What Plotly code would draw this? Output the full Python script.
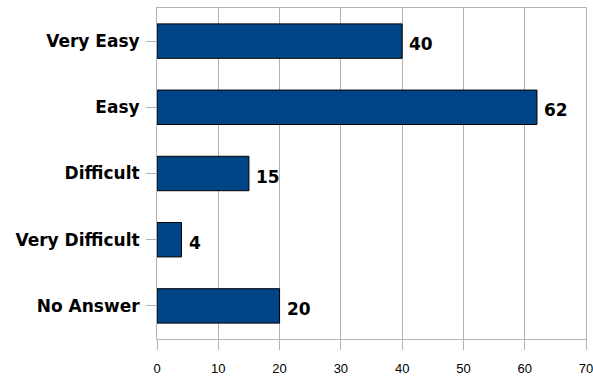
import plotly.graph_objects as go

# Survey responses: how easy was it?
categories = ["Very Easy", "Easy", "Difficult", "Very Difficult", "No Answer"]
counts = [40, 62, 15, 4, 20]
x_ticks = [0, 10, 20, 30, 40, 50, 60, 70]

BOLD_FONT = "DejaVu Sans, Liberation Sans, Arial, sans-serif"
TICK_FONT = "Liberation Sans, Arial, sans-serif"

fig = go.Figure(
    go.Bar(
        y=categories,
        x=counts,
        orientation="h",
        marker=dict(color="#004586", line=dict(color="#000000", width=1)),
        hoverinfo="x+y",
    )
)

# Value labels just past the end of each bar
for cat, val in zip(categories, counts):
    fig.add_annotation(
        x=val, y=cat, text=f"<b>{val}</b>", showarrow=False,
        xanchor="left", yanchor="middle", xshift=5, yshift=-3,
        font=dict(family=BOLD_FONT, size=17, color="#000000"),
    )

fig.update_layout(
    width=593, height=379,
    margin=dict(l=157, r=7, t=8, b=40),
    paper_bgcolor="#ffffff", plot_bgcolor="#ffffff",
    bargap=0.48,
    showlegend=False,
    font=dict(family=TICK_FONT, color="#000000"),
)

fig.update_xaxes(
    range=[0, 70], tickvals=x_ticks, ticktext=[str(v) for v in x_ticks],
    showgrid=True, gridcolor="#b3b3b3", gridwidth=1,
    showline=True, linecolor="#b3b3b3", linewidth=1, mirror=True,
    ticks="outside", ticklen=10, tickcolor="#b3b3b3",
    ticklabelstandoff=7, ticklabeloverflow="allow",
    tickfont=dict(family=TICK_FONT, size=13, color="#000000"),
    zeroline=False, fixedrange=True, automargin=False,
)

fig.update_yaxes(
    categoryorder="array", categoryarray=categories[::-1],
    showgrid=False,
    showline=True, linecolor="#b3b3b3", linewidth=1, mirror=True,
    ticks="outside", ticklen=10, tickcolor="#b3b3b3",
    ticklabelstandoff=3,
    tickfont=dict(family=BOLD_FONT, size=17, color="#000000", weight="bold"),
    fixedrange=True, automargin=False,
)

fig.write_html("out.html")
